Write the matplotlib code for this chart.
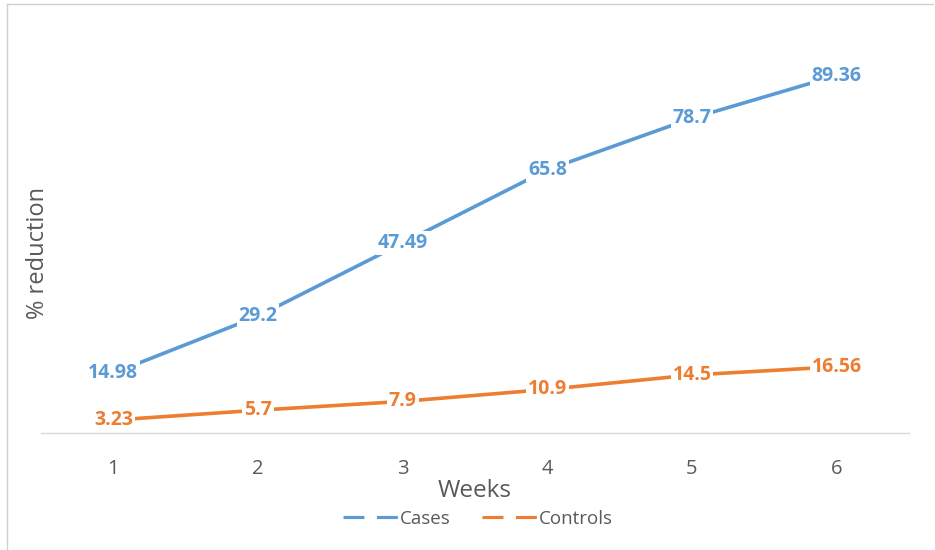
import matplotlib
matplotlib.use("Agg")
import matplotlib.pyplot as plt
from matplotlib.lines import Line2D

weeks = [1, 2, 3, 4, 5, 6]
cases = [14.98, 29.2, 47.49, 65.8, 78.7, 89.36]
controls = [3.23, 5.7, 7.9, 10.9, 14.5, 16.56]
case_labels = ["14.98", "29.2", "47.49", "65.8", "78.7", "89.36"]
control_labels = ["3.23", "5.7", "7.9", "10.9", "14.5", "16.56"]

BLUE = "#5B9BD5"
ORANGE = "#ED7D31"
GREY = "#595959"
FONT = ["Open Sans", "DejaVu Sans"]
plt.rcParams['font.family'] = FONT

W, H = 935, 550
fig = plt.figure(figsize=(W / 100, H / 100), dpi=100)
ax = fig.add_axes([41 / W, (H - 433) / H, (909 - 41) / W, (433 - 33) / H])

ax.plot(weeks, cases, color=BLUE, lw=2.6, solid_capstyle='butt', zorder=2)
ax.plot(weeks, controls, color=ORANGE, lw=2.6, solid_capstyle='butt', zorder=2)

for x, y, t in zip(weeks, cases, case_labels):
    ax.text(x, y, t, ha='center', va='center', color=BLUE, fontsize=14,
            fontweight='bold', zorder=4,
            bbox=dict(boxstyle='square,pad=0.1', fc='white', ec='none'))
for x, y, t in zip(weeks, controls, control_labels):
    ax.text(x, y, t, ha='center', va='center', color=ORANGE, fontsize=14,
            fontweight='bold', zorder=4,
            bbox=dict(boxstyle='square,pad=0.1', fc='white', ec='none'))

ax.set_xlim(0.5, 6.5)
ax.set_ylim(0, 100)
ax.set_xticks(weeks)
ax.set_xticklabels([str(w) for w in weeks])
ax.set_yticks([])
for s in ['top', 'right', 'left']:
    ax.spines[s].set_visible(False)
ax.spines['bottom'].set_color('#D9D9D9')
ax.spines['bottom'].set_linewidth(1.0)
ax.spines['bottom'].set_zorder(1)
ax.tick_params(axis='x', length=0, labelsize=14.5, labelcolor=GREY, pad=19)

ax.set_xlabel("Weeks", fontsize=17.5, color=GREY, labelpad=0)
ax.set_ylabel("% reduction", fontsize=17, color=GREY)
ax.yaxis.set_label_coords(9 / (909 - 41), (433 - 253) / 400)

handles = [Line2D([], [], color=BLUE, lw=2.25, dashes=(6.7, 4)),
           Line2D([], [], color=ORANGE, lw=2.25, dashes=(6.7, 4))]
fig.legend(handles, ["Cases", "Controls"], loc='center',
           bbox_to_anchor=(478 / W, (H - 519) / H), ncol=2, frameon=False,
           fontsize=13.5, handlelength=2.95, handletextpad=0.05, columnspacing=1.7,
           labelcolor=GREY)

# outer frame (top and left edges)
fig.add_artist(Line2D([7 / W, 933 / W], [(H - 4) / H, (H - 4) / H],
                      color='#D0D0D0', lw=1, transform=fig.transFigure))
fig.add_artist(Line2D([7 / W, 7 / W], [0, (H - 4) / H],
                      color='#D0D0D0', lw=1, transform=fig.transFigure))

fig.savefig("out.png", dpi=100, facecolor='white')
